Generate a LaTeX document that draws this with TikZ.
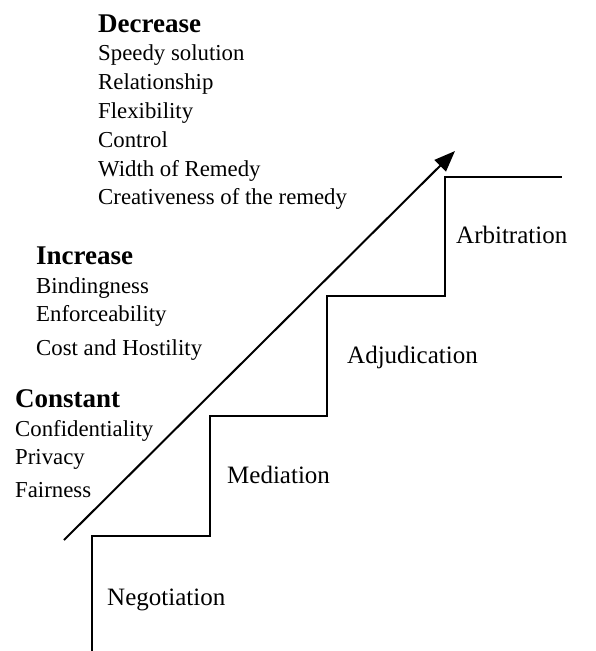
\documentclass[tikz,border=0pt]{standalone}
\usepackage{fontspec}
\setmainfont{Liberation Serif}
\usetikzlibrary{arrows.meta,positioning}

\tikzset{
  item/.style={anchor=base west,inner sep=0pt,font=\fontsize{22.8}{27}\selectfont},
  stage/.style={anchor=base west,inner sep=0pt,font=\fontsize{25}{30}\selectfont},
  head/.style={anchor=base west,inner sep=0pt,font=\fontsize{27}{32}\selectfont\bfseries},
  stair/.style={line width=2.6pt,line join=miter},
  rise/.style={line width=2pt,-{Triangle[length=21pt,width=16pt]}}
}

\begin{document}
\begin{tikzpicture}[x=1pt,y=-1pt]
    \useasboundingbox (0,0) rectangle (595,651);
    % staircase
    \draw[stair] (92,651)--(92,536)--(210,536)--(210,416)--(327,416)--(327,296)--(445,296)--(445,177)--(562,177);
    % steps
    \node[stage] (negotiation) at (107,605) {Negotiation};
    \node[stage] (mediation) at (227,483) {Mediation};
    \node[stage] (adjudication) at (347,363) {Adjudication};
    \node[stage] (arbitration) at (456,243) {Arbitration};
    % rising arrow
    \coordinate (low) at (64,540);
    \coordinate (high) at (455,151);
    \draw[rise] (low)--(high);
    % decrease
    \node[head] (decrease) at (98,32) {Decrease};
    \foreach \n/\y/\t in {speedy/60/Speedy solution, relation/89/Relationship, flex/118/Flexibility, control/147/Control, width/176/Width of Remedy, creative/204/Creativeness of the remedy}
      \node[item] (\n) at (98,\y) {\t};
    % increase
    \node[head] (increase) at (36,264) {Increase};
    \foreach \n/\y/\t in {binding/293/Bindingness, enforce/321/Enforceability, cost/355/Cost and Hostility}
      \node[item] (\n) at (36,\y) {\t};
    % constant
    \node[head] (constant) at (15,407) {Constant};
    \foreach \n/\y/\t in {confid/436/Confidentiality, privacy/464/Privacy, fair/497/Fairness}
      \node[item] (\n) at (15,\y) {\t};
  \end{tikzpicture}
\end{document}
